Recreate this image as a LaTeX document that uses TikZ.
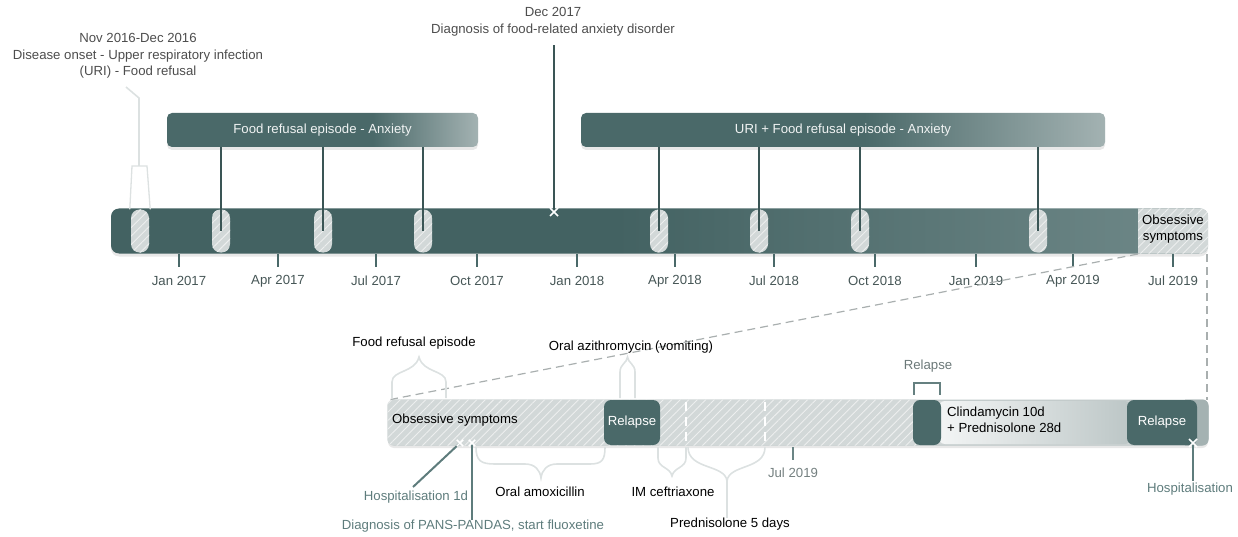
\documentclass[tikz,border=0pt]{standalone}
\usepackage{fontspec}
\setmainfont{Liberation Sans}
\usetikzlibrary{patterns.meta,shadows,calc}
\definecolor{teal1}{HTML}{436262}
\definecolor{teal2}{HTML}{4A6969}
\definecolor{teal3}{HTML}{A3B2B2}
\definecolor{teal4}{HTML}{6B8585}
\definecolor{connc}{HTML}{3A5555}
\definecolor{hatchbg}{HTML}{D2D8D8}
\definecolor{labgray}{HTML}{4D4D4D}
\definecolor{ticktxt}{HTML}{465656}
\definecolor{tealtxt}{HTML}{5E7C7C}
\definecolor{faint}{HTML}{DCE1E1}
\definecolor{dashc}{HTML}{A9AFAF}
\definecolor{clinL}{HTML}{F3F5F5}
\definecolor{clinR}{HTML}{BCC6C6}
\definecolor{endgray}{HTML}{A4B2B2}
\definecolor{bordc}{HTML}{BCC5C5}
\pgfdeclarehorizontalshading{barshade}{100bp}{color(0bp)=(teal1); color(48bp)=(teal1); color(72bp)=(teal4); color(100bp)=(teal4)}
\pgfdeclarehorizontalshading{boxshadeA}{100bp}{color(0bp)=(teal2); color(58bp)=(teal2); color(75bp)=(teal3); color(100bp)=(teal3)}
\pgfdeclarehorizontalshading{boxshadeB}{100bp}{color(0bp)=(teal2); color(52bp)=(teal2); color(75bp)=(teal3); color(100bp)=(teal3)}
\tikzset{
  lbl/.style={font=\fontsize{13.2}{16.5}\selectfont, inner sep=0pt, align=center},
  hatched/.style={fill=hatchbg, postaction={pattern={Lines[angle=45,distance=6pt,line width=0.9pt]}, pattern color=white!60!hatchbg}},
  pill/.style={hatched, rounded corners=8.5pt, minimum width=18pt, minimum height=43pt, inner sep=0pt},
  shad/.style={drop shadow={opacity=0.18, shadow xshift=0pt, shadow yshift=-3pt}},
  topbox/.style={lbl, rounded corners=5pt, minimum height=34pt, text=white!92!teal2, shad},
  conn/.style={connc, line width=1.4pt},
  tick/.style={teal2, line width=1.6pt},
  faintline/.style={faint, line width=1.6pt},
  zoomdash/.style={dashc, line width=1.2pt, dash pattern=on 8pt off 5pt},
  relbox/.style={lbl, fill=teal2, rounded corners=7pt, minimum height=45pt, inner sep=0pt, text=white},
  tealline/.style={tealtxt, line width=2pt},
  xmk/.pic={\draw[white, line width=1.6pt] (-4,-4) -- (4,4) (-4,4) -- (4,-4);}
}
\begin{document}
\begin{tikzpicture}[x=1pt,y=-1pt]
\useasboundingbox (0,0) rectangle (1238,537);

% ---------- upper timeline ----------
\node[rounded corners=8pt, shading=barshade, minimum width=1097pt, minimum height=45pt, inner sep=0pt, shad] (bar1) at (659.5,231) {};
\begin{scope}
  \clip[rounded corners=8pt] (bar1.north west) rectangle (bar1.south east);
  \fill[hatched] (1138,200) rectangle (1215,260);
\end{scope}
\node[lbl, text=black] (obs1) at (1173,229) {Obsessive\\symptoms};
\coordinate (obsSW) at (1138,254);
\coordinate (obsSE) at (1207,254);

% pills
\foreach \n/\x in {1/140,2/221,3/323,4/423,5/659,6/759,7/860,8/1038}
  \node[pill] (p\n) at (\x,231) {};

% ticks
\foreach \x/\t in {179/Jan 2017,278/Apr 2017,376/Jul 2017,477/Oct 2017,577/Jan 2018,675/Apr 2018,774/Jul 2018,875/Oct 2018,976/Jan 2019,1073/Apr 2019,1173/Jul 2019}{
  \draw[tick] (\x,254) -- (\x,267);
  \node[lbl, text=ticktxt] at (\x,281) {\t};
}

% top boxes
\node[topbox, shading=boxshadeA, minimum width=311pt] (fr) at (322.5,130) {Food refusal episode - Anxiety};
\node[topbox, shading=boxshadeB, minimum width=524pt] (uri) at (843,130) {URI + Food refusal episode - Anxiety};
\foreach \p in {p2,p3,p4} \draw[conn] (fr.south -| \p) -- (\p.center);
\foreach \p in {p5,p6,p7,p8} \draw[conn] (uri.south -| \p) -- (\p.center);

% Nov 2016 callout
\node[lbl, text=labgray] (nov) at (138,56) {Nov 2016-Dec 2016\\Disease onset - Upper respiratory infection\\(URI) - Food refusal};
\draw[faintline] (126,87) -- (139,98) -- (139,166);
\draw[faint, line width=1.3pt] ($(p1.north west)+(-1,0)$) -- (132,166) -- (147,166) -- ($(p1.north east)+(1,0)$);

% Dec 2017
\node[lbl, text=labgray] (dec) at (553,22) {Dec 2017\\Diagnosis of food-related anxiety disorder};
\coordinate (decm) at (554,212);
\draw[conn] ($(dec.south)+(1,9)$) -- (decm);
\pic at (decm) {xmk};

% ---------- lower timeline ----------
\node[rounded corners=6pt, minimum width=820pt, minimum height=45pt, inner sep=0pt, fill=hatchbg, draw=bordc, line width=1pt, shad] (bar2) at (798,422.5) {};
\begin{scope}
  \clip[rounded corners=6pt] (bar2.north west) rectangle (bar2.south east);
  \fill[hatched] (386,398) rectangle (916,447);
  \fill[endgray] (1185,398) rectangle (1212,447);
\end{scope}
\node[rounded corners=6pt, minimum width=192pt, minimum height=43pt, inner sep=0pt, left color=clinL, right color=clinR] (clin) at (1035,422.5) {};
\node[lbl, align=left, anchor=west, text=black] (clint) at (947,420) {Clindamycin 10d\\+ Prednisolone 28d};
\node[lbl, anchor=west, text=black] (obs2) at (392,420) {Obsessive symptoms};

\draw[white, line width=1.6pt, dash pattern=on 9pt off 6pt] (686,402) -- (686,444);
\draw[white, line width=1.6pt, dash pattern=on 9pt off 6pt] (765,402) -- (765,444);

\node[relbox, minimum width=56pt] (rel1) at (632,422.5) {Relapse};
\node[relbox, minimum width=28pt] (rel2) at (927,422.5) {};
\node[relbox, minimum width=70pt] (rel3) at (1162,422.5) {Relapse};

% zoom dashes
\draw[zoomdash] (obsSW) -- ($(bar2.north west)+(3,0)$);
\draw[zoomdash] (obsSE) -- (obsSE |- bar2.north);

% relapse bracket
\node[lbl, text=ticktxt!80] (rellab) at (928,366) {Relapse};
\draw[teal2!85, line width=1.8pt] ($(rel2.north west)+(1,-5)$) -- ($(rel2.north west)+(1,-17)$) -- ($(rel2.north east)+(-1,-17)$) -- ($(rel2.north east)+(-1,-5)$);

% upper braces
\node[lbl, text=black] (foodlab) at (414,343) {Food refusal episode};
\draw[faintline] (392,398) -- (392,382) .. controls (392,370) and (415,373) .. (419,357) .. controls (423,373) and (446,370) .. (446,382) -- (446,398);
\node[lbl, text=black] (azilab) at (631,347) {Oral azithromycin (vomiting)};
\draw[faintline] (620,398) -- (620,372) .. controls (620,364) and (627,363) .. (627.5,357) .. controls (628,363) and (635,364) .. (635,372) -- (635,398);

% lower braces
\node[lbl, text=black] (amoxlab) at (540,492) {Oral amoxicillin};
\draw[faintline] (476,447) .. controls (476,461) and (481,464) .. (495,464) -- (525,464) .. controls (535,464) and (540,470) .. (541,478) .. controls (542,470) and (547,464) .. (557,464) -- (590,464) .. controls (602,464) and (605,460) .. (605,447);
\node[lbl, text=black] (imlab) at (673,492) {IM ceftriaxone};
\draw[faintline] (658,447) -- (658,458) .. controls (658,468) and (670,467) .. (672,476) .. controls (674,467) and (686,468) .. (686,458) -- (686,447);
\node[lbl, text=black] (predlab) at (730,524) {Prednisolone 5 days};
\coordinate (predtip) at (727,481);
\draw[faintline] (688,447) .. controls (688,470) and (725,464) .. (predtip) .. controls (729,464) and (765,470) .. (765,447);
\draw[faintline] (predtip) -- (predtip |- predlab.north);

% lower tick
\draw[tick, teal4] (793,447) -- (793,460);
\node[lbl, text=ticktxt!75] (jul2) at (793,473) {Jul 2019};

% hospitalisations
\coordinate (h1) at (460,443);
\coordinate (h2) at (472,443);
\coordinate (h3) at (1193,443);
\node[lbl, text=tealtxt] (hosp1) at (416,497) {Hospitalisation 1d};
\node[lbl, text=tealtxt] (pans) at (473,526) {Diagnosis of PANS-PANDAS, start fluoxetine};
\node[lbl, text=tealtxt] (hosp3) at (1190,489) {Hospitalisation};
\coordinate (h1end) at (413,487);
\draw[tealline] (h1) -- (h1end);
\draw[tealline] (h2) -- (h2 |- pans.north);
\draw[tealline] (h3) -- ($(h3 |- hosp3.north)+(0,-2)$);
\pic[scale=0.8] at (h1) {xmk};
\pic[scale=0.8] at (h2) {xmk};
\pic at (h3) {xmk};
\end{tikzpicture}
\end{document}
